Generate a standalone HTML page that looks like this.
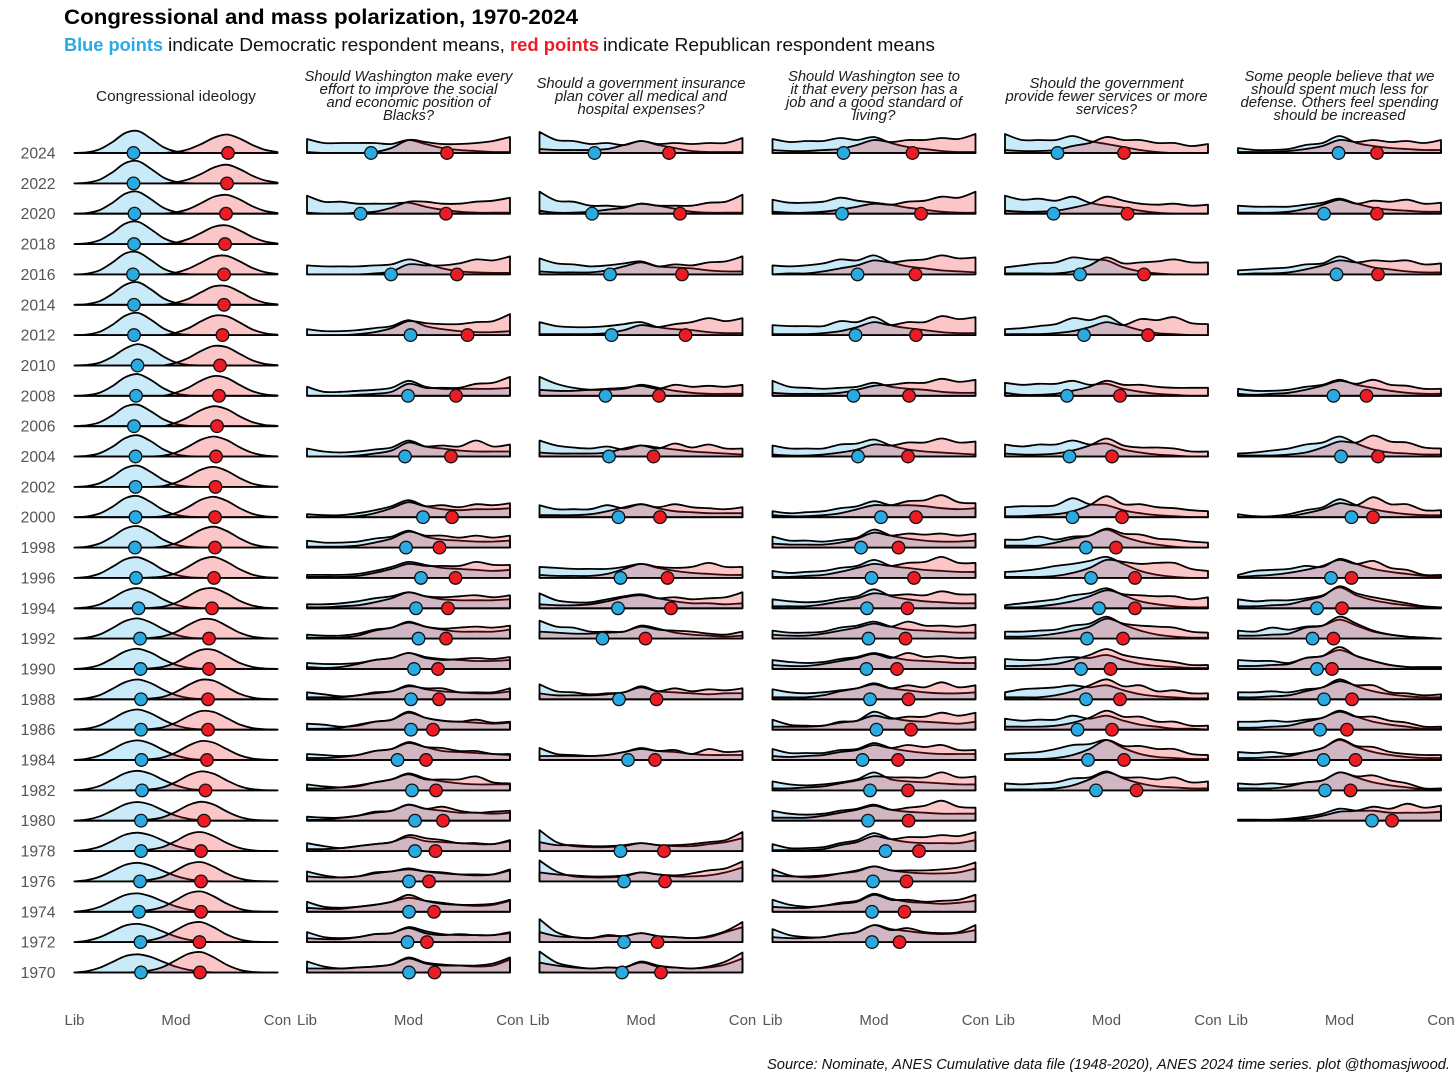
<!DOCTYPE html>
<html lang="en">
<head>
<meta charset="utf-8">
<title>Congressional and mass polarization, 1970-2024</title>
<style>
html,body{margin:0;padding:0;background:#fff;}
body{width:1456px;height:1078px;overflow:hidden;}
svg{display:block;font-family:"Liberation Sans",sans-serif;}
.pt{font-style:italic;font-size:14.5px;fill:#1c1c1c;text-anchor:middle;}
</style>
</head>
<body>
<svg id="chart" xmlns="http://www.w3.org/2000/svg" width="1456" height="1078" viewBox="0 0 1456 1078">
  <text x="64" y="24" font-size="21" font-weight="700" fill="#000" textLength="514" lengthAdjust="spacingAndGlyphs">Congressional and mass polarization, 1970-2024</text>
  <g font-size="18">
    <text x="64" y="51" font-weight="700" fill="#29abe2" textLength="99" lengthAdjust="spacingAndGlyphs">Blue points</text>
    <text x="168" y="51" fill="#111" textLength="337" lengthAdjust="spacingAndGlyphs">indicate Democratic respondent means,</text>
    <text x="510" y="51" font-weight="700" fill="#ed1c24" textLength="89" lengthAdjust="spacingAndGlyphs">red points</text>
    <text x="603" y="51" fill="#111" textLength="332" lengthAdjust="spacingAndGlyphs">indicate Republican respondent means</text>
  </g>
  <text x="176" y="101" font-size="14.5" fill="#222" text-anchor="middle" textLength="160" lengthAdjust="spacingAndGlyphs">Congressional ideology</text>
  <g class="pt">
    <text x="408.5" y="81" textLength="208" lengthAdjust="spacingAndGlyphs">Should Washington make every</text>
    <text x="408.5" y="94" textLength="178" lengthAdjust="spacingAndGlyphs">effort to improve the social</text>
    <text x="408.5" y="107" textLength="164" lengthAdjust="spacingAndGlyphs">and economic position of</text>
    <text x="408.5" y="120" textLength="51" lengthAdjust="spacingAndGlyphs">Blacks?</text>
  </g>
  <g class="pt">
    <text x="641" y="88" textLength="209" lengthAdjust="spacingAndGlyphs">Should a government insurance</text>
    <text x="641" y="101" textLength="172" lengthAdjust="spacingAndGlyphs">plan cover all medical and</text>
    <text x="641" y="114" textLength="127" lengthAdjust="spacingAndGlyphs">hospital expenses?</text>
  </g>
  <g class="pt">
    <text x="874" y="81" textLength="172" lengthAdjust="spacingAndGlyphs">Should Washington see to</text>
    <text x="874" y="94" textLength="167" lengthAdjust="spacingAndGlyphs">it that every person has a</text>
    <text x="874" y="107" textLength="176" lengthAdjust="spacingAndGlyphs">job and a good standard of</text>
    <text x="874" y="120" textLength="43" lengthAdjust="spacingAndGlyphs">living?</text>
  </g>
  <g class="pt">
    <text x="1106.5" y="88" textLength="154" lengthAdjust="spacingAndGlyphs">Should the government</text>
    <text x="1106.5" y="101" textLength="202" lengthAdjust="spacingAndGlyphs">provide fewer services or more</text>
    <text x="1106.5" y="114" textLength="61" lengthAdjust="spacingAndGlyphs">services?</text>
  </g>
  <g class="pt">
    <text x="1339.5" y="81" textLength="190" lengthAdjust="spacingAndGlyphs">Some people believe that we</text>
    <text x="1339.5" y="94" textLength="177" lengthAdjust="spacingAndGlyphs">should spent much less for</text>
    <text x="1339.5" y="107" textLength="198" lengthAdjust="spacingAndGlyphs">defense. Others feel spending</text>
    <text x="1339.5" y="120" textLength="132" lengthAdjust="spacingAndGlyphs">should be increased</text>
  </g>
  <text x="767" y="1069" font-size="14.5" font-style="italic" fill="#111" textLength="683" lengthAdjust="spacingAndGlyphs">Source: Nominate, ANES Cumulative data file (1948-2020), ANES 2024 time series. plot @thomasjwood.</text>
  <g id="marks"></g>
</svg>
<script>
/* Axis labels and shared values */
const axisLabels = ["Lib", "Mod", "Con"];
const axisDomain = [-101.5, 101.5];

/* Congressional ideology */
const congressYears = [2024,2022,2020,2018,2016,2014,2012,2010,2008,2006,2004,2002,2000,1998,1996,1994,1992,1990,1988,1986,1984,1982,1980,1978,1976,1974,1972,1970];
const congressDemMeans = [-42.5,-42.5,-41.5,-42,-43,-42,-42,-38.5,-40,-42,-40.5,-40.5,-40.5,-41,-40,-37.5,-36,-35.5,-35,-35,-34.5,-34,-35,-35,-36,-37,-35.5,-35];
const congressRepMeans = [52,51,50,49,48,48,46.5,44,43,41,40,39.5,39,39,38,36,33,33,32,32,31,29.5,28,25,25,25,23.5,24];
const congressDem = [
[0,.7,3.8,11,20,22,14.6,5.9,1.5,.2],
[0,.7,3.8,11.2,20.3,22.3,14.8,6,1.5,.2],
[0,.7,3.7,11,20,22,14.7,6,1.6,.2],
[0,.8,4,11.4,20.5,22.4,15,6.2,1.6,.2],
[0,.8,4.2,12,21,22.2,14.5,5.8,1.5,.2],
[0,.7,3.7,11,20,22.6,15.6,6.6,1.8,.3],
[0,.6,3.4,10.4,19.4,22.2,15.6,6.8,1.9,.3],
[0,.6,2.9,8.8,17,21.4,17,9,3,.6,.1],
[0,.6,3.2,9.8,18.6,21.7,16,7.6,2.3,.4],
[0,.9,4,11,19.6,21.5,15,7,2.2,.4],
[0,.7,3.4,9.8,18.4,21.2,15.4,7.2,2.3,.4],
[0,.8,3.8,10.4,18.8,21.2,15,7,2.2,.4],
[0,.8,3.8,10.5,19,21.2,15.2,7.2,2.4,.5],
[0,1,4.2,11,19,21.5,16,8,2.8,.7,.1],
[0,1,4.4,11.2,18.6,20.6,15.6,8,3,.7,.1],
[0,1,4,10.4,17.5,20.2,16,9,3.6,1,.2],
[0,1.1,4.2,10.6,17.6,20.2,16.2,9.4,3.9,1.1,.2],
[0,1.1,4.2,10.6,17.6,20.2,16.4,9.6,4.1,1.2,.2],
[0,1.2,4.3,10.6,17.2,19.8,16.2,9.6,4.2,1.3,.3],
[0,1.2,4.4,10.8,17.6,20.2,16.4,9.8,4.4,1.4,.3],
[0,1.3,4.6,10.8,17.2,19.6,16.4,10,4.6,1.5,.3],
[0,1.3,4.6,10.8,17.2,19.6,16.6,10.4,5,1.7,.4],
[0,1.2,4.4,10.2,16.4,18.7,16,10.2,5,1.8,.5],
[0,1.3,4.5,10.3,16.4,18.4,15.8,10.4,5.2,2,.5],
[0,1.4,4.8,10.6,16.6,18.6,15.8,10.4,5.4,2.1,.6],
[0,1.5,5,11,16.8,18.4,15.4,10.2,5.4,2.2,.6],
[0,1.5,5,10.8,16.6,18.2,15.4,10.4,5.6,2.4,.7],
[0,1.4,4.8,10.6,16.4,18.2,15.6,10.6,5.8,2.6,.8]
];
const congressRep = [
[0,0,0,0,0,0,0,0,1.1,3.8,9,15.4,18.5,14.6,8.2,3.2,.9],
[0,0,0,0,0,0,0,0,1.2,4.2,9.6,16,18.7,14.4,7.8,3,.8],
[0,0,0,0,0,0,0,0,1.4,4.7,10.7,17,18.8,14.4,7.6,2.8,.7],
[0,0,0,0,0,0,0,0,1.5,5.2,11.3,17.4,18.7,13.8,7.2,2.6,.6],
[0,0,0,0,0,0,0,0,1.8,5.8,12,17.9,18.5,13.2,6.6,2.3,.5],
[0,0,0,0,0,0,0,0,2,6.1,12.7,18.5,18.7,13.2,6.4,2.1,.5],
[0,0,0,0,0,0,0,0,2.4,7,14,19.4,18.8,12.8,5.8,1.9,.4],
[0,0,0,0,0,0,0,0,2.7,7.7,14.7,19.6,18.3,11.8,5.3,1.6,.3],
[0,0,0,0,0,0,0,0,3.2,8.4,15.4,19.8,17.8,11,4.8,1.4,.3],
[0,0,0,0,0,0,0,0,3.6,9.3,16.3,20,17,10,4.2,1.2,.3],
[0,0,0,0,0,0,0,.8,4,10.2,17,20,16.4,9.4,3.8,1,.2],
[0,0,0,0,0,0,0,.9,4.4,10.6,17.4,20,16,9,3.4,.9,.2],
[0,0,0,0,0,0,0,1,4.3,10.5,17.6,20.4,16.4,9.2,3.6,.9,.2],
[0,0,0,0,0,0,0,1.2,4.4,11,18,20.9,16.6,9.4,3.6,.9,.2],
[0,0,0,0,0,0,.4,1.5,4.8,11.5,18.5,20.9,16,8.8,3.4,.9,.2],
[0,0,0,0,0,0,.4,1.7,5.5,12.4,18.9,20,14.7,7.6,2.8,.7,.1],
[0,0,0,0,0,0,.7,2.3,6.7,13.8,19.3,18.9,12.7,6,2,.5,.1],
[0,0,0,0,0,0,.6,2.2,6.6,13.6,19.2,19,12.9,6.2,2.1,.5,.1],
[0,0,0,0,0,0,.8,2.6,7.4,14.4,19.6,18.5,12.2,5.6,1.8,.4,.1],
[0,0,0,0,0,0,.7,2.5,7.1,13.8,18.7,17.6,11.6,5.3,1.7,.4,.1],
[0,0,0,0,0,0,.8,2.8,7.6,14.5,19,17.2,10.9,4.9,1.5,.4,.1],
[0,0,0,0,0,.3,1.1,3.2,8.4,15.2,19,16.5,10,4.3,1.2,.3,0],
[0,0,0,0,0,.3,1.3,3.6,9.1,15.8,19,16,9.3,3.9,1.1,.3,0],
[0,0,0,0,0,.4,1.6,4.3,10.2,16.9,19,14.8,8.2,3.2,.8,.2,0],
[0,0,0,0,0,.5,1.8,4.8,11,17.5,19.3,14.6,7.8,3,.7,.2,0],
[0,0,0,0,0,.5,1.9,5.1,11.7,18.5,20.3,15.3,8.2,3.1,.7,.2,0],
[0,0,0,0,0,.5,2,5.5,12,18.4,20,14.7,7.5,2.8,.6,.1,0],
[0,0,0,0,0,.6,2.1,5.7,12.3,18.8,20.4,15,7.7,2.8,.6,.1,0]
];

/* Should Washington make every effort to improve the social and economic position of Blacks? */
const blacksYears = [2024,2020,2016,2012,2008,2004,2000,1998,1996,1994,1992,1990,1988,1986,1984,1982,1980,1978,1976,1974,1972,1970];
const blacksDemMeans = [-37.5,-48,-17.5,2,-.5,-3.5,14.5,-2.5,12.5,7.5,10,5.5,2.5,2.5,-11,3.5,6.5,6.5,.5,.5,-1,.5];
const blacksRepMeans = [38.5,37.5,48.5,59,47.5,42.5,43.5,31,47,39.5,37.5,29.5,30.5,24.5,17.5,27.5,34.5,27,20.5,25.5,18.5,26];
const blacksDem = [
[14,10,10,10,10,9,13,9,5,3,2,1,1],
[18,12,12,10,10,10,11,7,4,2,1,1,1],
[9,8,8,8,9,10,15,11,6,3,2,1.5,1.5],
[6,4,4,5,7,9,15,9,6,4,3,3,4],
[9,4,4,5,6,8,15,9,7,7,7,7,8],
[8,5,4,5,7,9,16,10,8,6,5,5,5],
[3,2,2,4,7,11,17,11,8,7,8,8,9],
[7,5,5,6,9,11,17,11,8,7,6,6,7],
[3,3,3,4,7,11,16,13,10,9,8,7,8],
[4,4,5,7,10,12,16,12,9,8,8,8,9],
[4,3,3,5,9,11,17,12,9,7,7,7,9],
[6,5,5,6,9,11,16,12,10,9,8,8,9],
[7,5,3,4,7,8,14,10,8,7,6,6,8],
[6,5,3,4,8,10,18,12,9,8,7,6,7],
[6,5,4,5,9,11,18,13,9,8,7,6,5],
[6,4,3,4,8,11,17,12,9,7,6,6,6],
[4,3,3,5,9,10,16,12,10,8,8,7,8],
[8,5,3,5,7,9,14,10,9,8,7,7,10],
[10,6,4,5,9,10,13,10,8,7,7,7,11],
[10,5,4,5,7,10,14,11,9,7,6,7,11],
[10,5,4,5,8,9,15,11,8,7,7,7,9],
[11,6,4,5,6,8,15,10,8,7,6,7,13]
];
const blacksRep = [
[1,0,0,0,1,5,13,11,9,9,10,12,16],
[1,0,0,1,2,6,12,12,10,10,12,13,16],
[0,0,0,0,1,3,10,9,9,11,15,14,18],
[0,0,0,1,3,7,14,12,11,11,13,14,21],
[0,0,0,1,2,4,12,8,8,8,12,13,19],
[0,0,0,1,3,6,14,10,11,10,16,10,12],
[0,0,0,1,4,9,15,11,12,10,13,12,14],
[1,1,1,2,5,9,16,12,12,10,12,10,12],
[1,1,1,2,5,9,14,12,12,12,16,13,13],
[1,1,2,3,6,10,16,12,11,12,13,11,13],
[1,1,1,3,8,11,16,12,10,11,12,11,13],
[2,1,2,5,9,11,16,11,9,10,11,10,12],
[2,2,2,4,6,8,13,11,11,7,7,7,11],
[1,1,2,5,8,10,17,12,9,8,10,7,8],
[2,2,3,5,9,11,17,13,12,9,9,6,6],
[2,2,3,5,8,11,16,11,11,11,14,8,7],
[1,1,3,5,8,10,16,12,14,10,8,9,10],
[2,2,3,5,7,9,16,13,11,8,8,7,11],
[5,4,4,5,8,10,12,10,9,7,6,7,12],
[4,3,3,5,7,10,17,11,8,7,7,8,12],
[4,3,3,5,8,9,14,9,7,8,7,7,10],
[4,4,4,5,6,8,14,9,7,7,7,9,15]
];

/* Should a government insurance plan cover all medical and hospital expenses? */
const insuranceYears = [2024,2020,2016,2012,2008,2004,2000,1996,1994,1992,1988,1984,1978,1976,1972,1970];
const insuranceDemMeans = [-46.5,-49,-31,-29.5,-35.5,-32,-22.5,-20.5,-23,-38.5,-22,-13,-20.5,-17,-17,-19];
const insuranceRepMeans = [28,39,41,44.5,18,12.5,19,26.5,30,4.5,15.5,14,23,24,16.5,20];
const insuranceDem = [
[21,13,12,9,10,8,12,8,5,2,1,1,1],
[22,13,12,8,8,7,10,8,5,2,1,1,1],
[16,11,10,8,9,11,13,8,7,6,4,3,3],
[13,9,8,8,9,11,13,8,6,5,3,2,2],
[19,12,8,6,6,7,11,8,5,3,2,2,2],
[16,11,9,8,10,7,11,9,7,5,4,3,2],
[12,8,8,8,12,9,13,9,6,5,4,4,4],
[11,10,9,9,9,11,14,10,7,5,4,3,3],
[15,8,6,6,9,12,14,10,7,5,5,4,5],
[18,12,11,7,7,7,13,10,6,4,3,2,3],
[15,8,7,5,6,7,13,8,7,6,5,6,6],
[12,6,5,4,5,8,12,9,8,6,5,5,5],
[21,9,5,4,4,5,8,6,5,5,7,9,13],
[21,10,5,4,4,5,9,7,5,5,6,9,14],
[23,10,5,4,6,6,9,6,5,4,5,10,15],
[21,10,6,4,5,5,11,7,5,4,5,8,14]
];
const insuranceRep = [
[4,3,3,3,4,8,12,9,10,9,10,10,15],
[3,1,1,2,4,6,10,8,8,8,11,12,19],
[3,2,2,2,4,8,12,8,10,9,12,13,18],
[1,1,1,1,2,5,10,8,11,13,17,14,17],
[6,5,5,6,7,8,10,7,11,9,10,9,11],
[4,3,3,3,4,8,11,8,13,9,12,8,8],
[2,2,2,3,6,10,13,10,13,10,9,8,10],
[3,2,2,2,4,9,14,11,10,11,15,11,11],
[4,3,3,4,7,11,13,10,11,9,10,11,16],
[7,6,5,5,6,7,12,9,8,7,5,4,7],
[6,4,4,4,5,7,12,8,11,8,10,9,11],
[4,4,4,4,5,8,11,9,10,6,11,8,9],
[9,6,6,5,5,6,8,6,6,7,9,11,19],
[9,7,6,5,5,6,9,7,6,8,11,13,20],
[10,6,5,4,7,6,9,6,5,4,6,11,20],
[10,7,5,4,5,5,10,6,5,4,6,11,20]
];

/* Should Washington see to it that every person has a job and a good standard of living? */
const jobsYears = [2024,2020,2016,2012,2008,2004,2000,1998,1996,1994,1992,1990,1988,1986,1984,1982,1980,1978,1976,1974,1972];
const jobsDemMeans = [-30.5,-32,-16.5,-18.5,-20.5,-16,7,-13,-2.5,-7,-5.5,-7.5,-4,2.5,-11.5,-4,-6,11.5,-1,-2,-2];
const jobsRepMeans = [38.5,47,41.5,42,35,34,42,24.5,40,33.5,31.5,23,34.5,37,24,34,34.5,45,32.5,30.5,25.5];
const jobsDem = [
[14,11,12,12,15,13,16,10,6,4,2,1,1],
[14,11,11,12,16,13,11,9,6,4,2,1,1],
[9,8,9,11,15,14,19,12,8,6,4,3,2],
[10,9,9,9,14,13,18,10,7,5,3,2,2],
[15,9,8,7,8,9,13,9,7,6,4,3,3],
[11,8,8,8,12,13,17,11,7,5,4,3,2],
[6,4,5,6,9,11,16,12,12,11,9,8,9],
[11,7,7,6,8,10,18,12,9,7,6,6,7],
[7,5,6,7,10,12,18,12,10,8,7,6,6],
[9,7,6,7,10,12,19,12,9,7,6,5,5],
[8,6,6,7,11,13,17,12,9,8,7,6,6],
[9,7,6,7,10,12,16,12,9,8,7,6,6],
[10,7,6,7,9,11,16,11,9,7,6,6,7],
[10,5,4,4,8,9,18,12,9,8,7,6,8],
[11,7,7,7,10,11,17,12,9,7,6,6,6],
[9,6,5,6,8,11,18,11,9,8,7,6,6],
[10,7,6,7,10,12,16,11,9,8,7,7,7],
[7,3,3,4,8,11,18,12,9,8,8,8,11],
[12,6,4,5,8,10,15,11,9,8,8,9,13],
[12,7,5,6,9,11,18,13,10,9,8,9,11],
[13,7,5,5,8,10,17,13,11,9,8,9,12]
];
const jobsRep = [
[3,2,2,3,4,8,13,11,13,13,15,14,19],
[2,1,1,2,4,7,10,9,12,13,17,16,22],
[0,1,1,3,6,9,14,12,14,15,19,16,17],
[1,1,1,2,4,8,13,10,13,13,19,16,18],
[3,2,2,2,3,6,10,11,13,13,17,14,16],
[2,1,1,2,4,7,12,11,14,14,18,14,15],
[2,1,1,2,4,8,12,12,16,17,22,15,14],
[4,3,3,3,5,9,15,12,14,13,14,12,14],
[1,1,2,3,6,10,14,12,15,16,21,15,15],
[2,2,2,4,7,10,15,13,14,13,17,14,14],
[4,3,3,5,8,11,15,12,17,13,13,12,14],
[4,3,3,5,8,11,15,11,16,12,13,11,12],
[2,2,2,4,8,11,15,11,14,12,17,12,14],
[3,3,3,4,7,9,14,11,13,13,17,14,17],
[4,3,4,5,8,10,15,12,15,13,15,10,10],
[2,2,3,4,7,10,14,13,13,13,18,13,14],
[3,3,3,5,8,11,15,11,13,15,20,14,13],
[1,1,1,2,6,9,15,12,14,14,16,15,19],
[6,5,5,6,8,11,15,11,11,11,12,14,19],
[5,4,4,6,8,10,17,12,12,10,11,12,17],
[5,4,4,5,8,10,17,12,14,10,9,10,17]
];

/* Should the government provide fewer services or more services? */
const servicesYears = [2024,2020,2016,2012,2008,2004,2000,1998,1996,1994,1992,1990,1988,1986,1984,1982];
const servicesDemMeans = [-49,-53,-26.5,-22.5,-39.5,-37,-34,-20.5,-15.5,-7.5,-19.5,-25.5,-20.5,-29,-18.5,-10.5];
const servicesRepMeans = [17.5,21,37.5,41.5,13.5,5.5,15.5,9.5,28.5,28.5,16.5,4,13.5,5.5,17.5,30];
const servicesDem = [
[19,13,13,13,17,12,9,6,3,1,0,0,0],
[18,14,15,13,17,11,8,6,3,1,0,0,0],
[7,9,11,12,17,15,14,7,3,1,0,0,0],
[6,7,9,11,17,15,19,10,5,2,1,0,0],
[13,11,12,12,15,11,12,7,4,2,1,0,0],
[12,10,12,12,16,12,13,7,4,2,1,0,0],
[10,11,11,12,19,13,12,7,4,2,1,0,0],
[8,8,11,8,11,12,18,11,6,3,1,0,0],
[6,7,9,12,14,17,21,14,7,3,1,0,0],
[3,5,7,9,13,15,20,13,7,4,2,1,1],
[7,7,8,9,13,15,22,14,8,4,2,1,1],
[10,9,9,11,12,11,14,9,5,3,2,1,1],
[7,10,11,12,14,12,14,9,5,3,2,1,1],
[11,9,10,10,14,11,14,9,5,3,1,1,0],
[6,7,8,11,15,16,20,12,6,3,2,1,1],
[7,6,7,8,12,13,19,12,7,4,3,2,2]
];
const servicesRep = [
[3,2,2,3,7,10,16,13,13,10,10,7,9],
[3,2,2,3,6,10,17,13,10,9,10,8,9],
[1,1,1,1,3,9,17,11,12,13,15,12,12],
[1,1,1,2,4,8,13,10,16,15,18,12,11],
[3,1,1,2,5,9,15,11,11,9,8,8,8],
[3,2,2,3,6,11,18,11,9,9,8,5,5],
[1,1,2,3,6,12,21,13,13,10,9,7,6],
[2,2,2,5,9,12,19,14,13,9,8,6,5],
[1,1,1,2,5,10,18,16,14,15,15,9,7],
[1,1,2,4,7,12,18,14,13,12,12,9,11],
[2,2,3,5,8,12,20,15,13,12,11,7,6],
[3,3,4,5,9,14,20,14,11,9,7,4,4],
[2,2,2,4,8,14,20,13,14,8,9,6,6],
[3,3,3,4,7,12,19,13,13,8,8,4,4],
[1,1,1,2,5,11,20,14,14,11,11,6,5],
[1,1,1,2,5,11,18,13,13,11,13,8,9]
];

/* Some people believe that we should spend much less for defense. Others feel spending should be increased */
const defenseYears = [2024,2020,2016,2008,2004,2000,1996,1994,1992,1990,1988,1986,1984,1982,1980];
const defenseDemMeans = [-1,-15.5,-3,-6,1.5,12,-8.5,-22.5,-27,-22.5,-15.5,-19.5,-16,-14.5,32.5];
const defenseRepMeans = [37.5,37.5,38.5,27,38.5,33.5,12,2.5,-6,-7.5,12.5,7.5,16,11,52.5];
const defenseDem = [
[5,3,3,4,8,10,17,10,7,5,4,3,3],
[8,7,7,7,9,11,15,10,6,4,3,2,2],
[4,5,6,7,10,11,18,12,7,5,3,2,2],
[7,5,5,6,9,11,16,11,8,5,3,2,2],
[3,4,6,8,12,14,20,13,7,4,3,2,2],
[3,1,1,3,7,10,18,12,8,5,3,2,2],
[3,7,8,9,12,11,19,14,9,6,4,2,1],
[9,7,8,8,10,13,21,13,8,5,3,1,1],
[8,7,11,9,12,13,19,13,7,4,2,1,0],
[9,8,8,6,11,13,19,13,8,4,2,1,1],
[7,7,8,7,10,12,20,13,8,5,3,2,2],
[8,8,9,8,10,12,19,13,8,5,3,1,1],
[8,7,8,6,8,12,20,13,8,5,3,2,2],
[7,6,7,6,8,10,18,13,8,5,3,1,1],
[1,1,1,2,4,7,12,10,10,8,8,8,9]
];
const defenseRep = [
[1,1,1,2,4,7,13,11,13,11,12,10,13],
[1,1,1,2,5,9,14,10,13,12,14,10,11],
[0,1,1,2,5,9,14,12,14,13,14,10,11],
[2,1,2,3,6,10,15,12,16,11,10,7,7],
[1,1,1,2,4,9,15,14,21,15,14,9,8],
[0,0,0,1,4,8,14,12,20,13,13,7,7],
[1,2,3,5,8,12,18,14,17,10,8,3,3],
[2,2,3,4,8,12,22,15,11,8,5,2,1],
[3,3,4,5,11,13,22,15,8,4,2,1,0],
[3,3,4,5,11,13,22,13,8,4,2,2,2],
[2,2,3,4,8,12,18,14,14,7,6,4,5],
[2,2,3,4,8,12,18,13,13,9,7,3,3],
[2,2,3,4,8,12,21,14,13,8,6,5,5],
[2,2,2,4,8,10,18,14,15,10,7,2,2],
[0,0,0,1,2,5,9,10,14,12,17,13,15]
];

const panels = [
  {name:"congress",  left:74.5,  years:congressYears,  dem:congressDem,  rep:congressRep,  demMeans:congressDemMeans,  repMeans:congressRepMeans,  grid:17},
  {name:"blacks",    left:307,   years:blacksYears,    dem:blacksDem,    rep:blacksRep,    demMeans:blacksDemMeans,    repMeans:blacksRepMeans,    grid:13},
  {name:"insurance", left:539.5, years:insuranceYears, dem:insuranceDem, rep:insuranceRep, demMeans:insuranceDemMeans, repMeans:insuranceRepMeans, grid:13},
  {name:"jobs",      left:772.5, years:jobsYears,      dem:jobsDem,      rep:jobsRep,      demMeans:jobsDemMeans,      repMeans:jobsRepMeans,      grid:13},
  {name:"services",  left:1005,  years:servicesYears,  dem:servicesDem,  rep:servicesRep,  demMeans:servicesDemMeans,  repMeans:servicesRepMeans,  grid:13},
  {name:"defense",   left:1238,  years:defenseYears,   dem:defenseDem,   rep:defenseRep,   demMeans:defenseDemMeans,   repMeans:defenseRepMeans,   grid:13}
];

const NS = "http://www.w3.org/2000/svg";
const panelWidth = 203;
const root = document.getElementById("marks");

function xScale(panel, value) {
  return panel.left + (value - axisDomain[0]) / (axisDomain[1] - axisDomain[0]) * panelWidth;
}
function yScale(year) {
  return 153 + (2024 - year) * (819.5 / 54);
}
function densityY(base, density) {
  return base - density;
}
function densityPath(panel, values, base) {
  const pts = [];
  for (let i = 0; i < panel.grid; i++) {
    const v = axisDomain[0] + i / (panel.grid - 1) * (axisDomain[1] - axisDomain[0]);
    pts.push([xScale(panel, v), densityY(base, values[i] || 0)]);
  }
  let d = "M" + pts[0][0].toFixed(1) + " " + base.toFixed(1) + "L" + pts[0][0].toFixed(1) + " " + pts[0][1].toFixed(1);
  for (let i = 0; i < pts.length - 1; i++) {
    const p0 = pts[Math.max(i - 1, 0)], p1 = pts[i], p2 = pts[i + 1], p3 = pts[Math.min(i + 2, pts.length - 1)];
    const c1x = p1[0] + (p2[0] - p0[0]) / 6, c1y = Math.min(base, p1[1] + (p2[1] - p0[1]) / 6);
    const c2x = p2[0] - (p3[0] - p1[0]) / 6, c2y = Math.min(base, p2[1] - (p3[1] - p1[1]) / 6);
    d += "C" + c1x.toFixed(1) + " " + c1y.toFixed(1) + " " + c2x.toFixed(1) + " " + c2y.toFixed(1) + " " + p2[0].toFixed(1) + " " + p2[1].toFixed(1);
  }
  return d + "L" + pts[pts.length - 1][0].toFixed(1) + " " + base.toFixed(1) + "Z";
}
function drawRidge(parent, panel, values, base, fill) {
  const path = document.createElementNS(NS, "path");
  
  
  path.setAttribute("d", densityPath(panel, values, base));
  path.setAttribute("fill", fill);
  path.setAttribute("stroke", "#000");
  path.setAttribute("stroke-width", "1.8");
  path.setAttribute("stroke-linejoin", "round");
  parent.appendChild(path);
}
function drawPoint(parent, cx, cy, fill) {
  const c = document.createElementNS(NS, "circle");
  
  
  c.setAttribute("cx", cx.toFixed(1));
  c.setAttribute("cy", cy.toFixed(1));
  c.setAttribute("r", "6.3");
  c.setAttribute("fill", fill);
  c.setAttribute("stroke", "#111");
  c.setAttribute("stroke-width", "1.3");
  parent.appendChild(c);
}

panels.forEach(function (panel) {
  const g = document.createElementNS(NS, "g");
  
  
  root.appendChild(g);
  panel.years.forEach(function (year, r) {
    const base = yScale(year);
    const row = document.createElementNS(NS, "g");
    
    
    g.appendChild(row);
    drawRidge(row, panel, panel.dem[r], base, "rgba(41,171,226,.25)");
    drawRidge(row, panel, panel.rep[r], base, "rgba(237,28,36,.25)");
  });
  panel.years.forEach(function (year, r) {
    const base = yScale(year);
    drawPoint(g, xScale(panel, panel.demMeans[r]), base, "#29abe2");
    drawPoint(g, xScale(panel, panel.repMeans[r]), base, "#ed1c24");
  });
  axisLabels.forEach(function (label, i) {
    const t = document.createElementNS(NS, "text");
    
    
    t.setAttribute("x", xScale(panel, axisDomain[0] + i * (axisDomain[1] - axisDomain[0]) / 2));
    t.setAttribute("y", 1025);
    t.setAttribute("text-anchor", "middle");
    t.setAttribute("font-size", "15");
    t.setAttribute("fill", "#555");
    t.textContent = label;
    g.appendChild(t);
  });
});

congressYears.forEach(function (year) {
  const t = document.createElementNS(NS, "text");
  
  
  t.setAttribute("x", 55.5);
  t.setAttribute("y", yScale(year) + 5.5);
  t.setAttribute("text-anchor", "end");
  t.setAttribute("font-size", "15.7");
  t.setAttribute("fill", "#555");
  t.textContent = year;
  root.appendChild(t);
});
</script>
</body>
</html>
